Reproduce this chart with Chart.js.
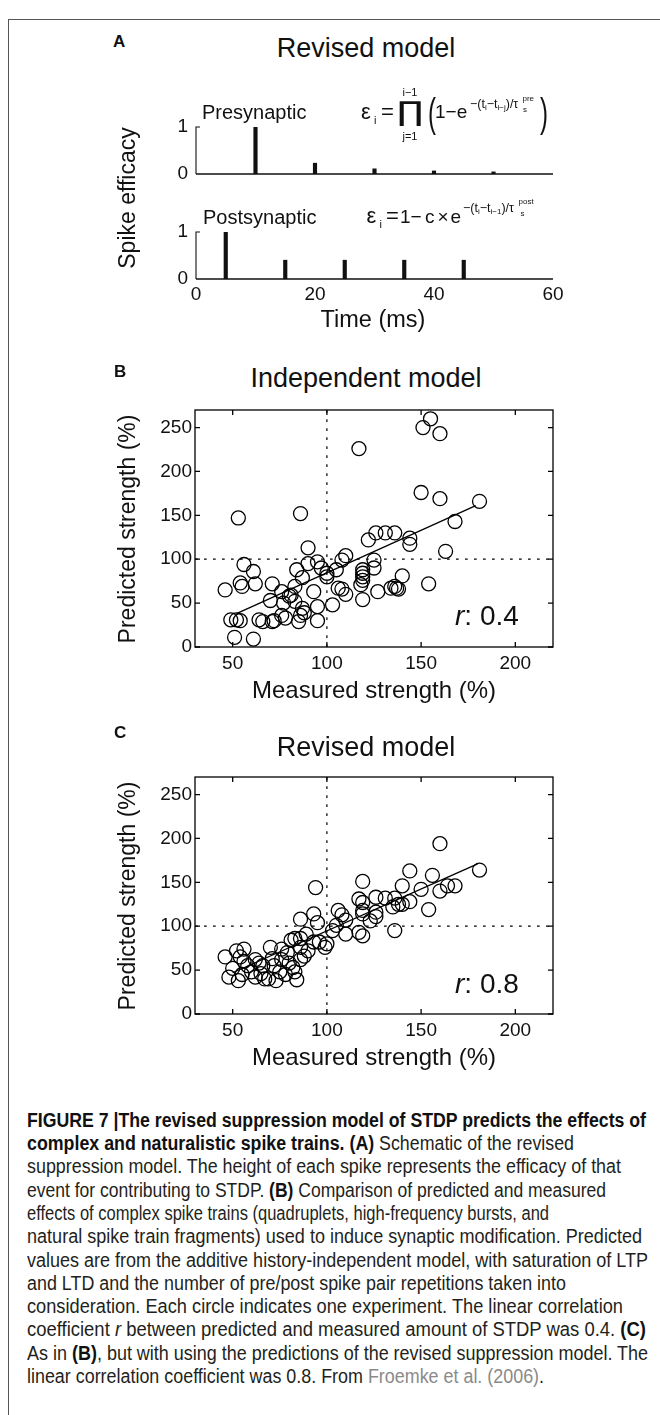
<!DOCTYPE html>
<html>
<head>
<meta charset="utf-8">
<script src="https://cdn.jsdelivr.net/npm/chart.js@4.4.1/dist/chart.umd.min.js"></script>
<style>
  html, body { margin: 0; padding: 0; background: #fff; }
  body { width: 660px; height: 1415px; position: relative; overflow: hidden;
         font-family: "Liberation Sans", Arial, sans-serif; color: #111; }
  .frame { position: absolute; left: 8px; top: 19px; width: 700px; height: 1500px;
           border-left: 1px solid #555; border-top: 1px solid #555; }
  canvas { position: absolute; left: 0; }
  .t { position: absolute; white-space: nowrap; line-height: 1; }
  .sb { font-size: 8px; position: relative; top: 2px; }
  .cap { position: absolute; left: 27px; white-space: nowrap; line-height: 1;
         font-family: "Liberation Sans Narrow", "Liberation Sans", sans-serif;
         font-size: 20px; color: #231f20; transform-origin: left center; }
  .cap b { color: #111; }
  .ref { color: #8a8a8a; }
</style>
</head>
<body>
<div class="frame"></div>
<canvas id="pre" width="660" height="78" style="top:110px"></canvas>
<canvas id="post" width="660" height="94" style="top:215px"></canvas>
<canvas id="indep" width="660" height="280" style="top:400px"></canvas>
<canvas id="revised" width="660" height="280" style="top:767px"></canvas>

<script>
// panel A: spike times (ms) and efficacies
const timeTicks = [0, 20, 40, 60];
const preTimes = [10, 20, 30, 40, 50];
const preEfficacy = [1, 0.23, 0.11, 0.065, 0.045];
const postTimes = [5, 15, 25, 35, 45];
const postEfficacy = [1, 0.4, 0.4, 0.4, 0.4];

// panels B and C: measured vs predicted strength (%)
const measuredTicks = [50, 100, 150, 200];
const predictedTicks = [0, 50, 100, 150, 200, 250];
const refLevel = 100;

const indepMeasured = [155, 151, 160, 117, 150, 160, 181, 168, 53, 86,
  126, 131, 136, 122, 144, 144, 90, 110, 108, 163, 125, 125,
  56, 61, 84, 87, 90, 95, 97, 100, 100, 105, 119, 119, 119, 119, 118,
  140, 154, 134, 137, 138, 136, 54, 55, 62, 46, 71,
  76, 81, 83, 93, 106, 108, 110, 127, 119, 103, 70, 77, 80, 83, 87, 95,
  76, 71, 64, 66, 72, 49, 52, 54, 51, 61, 86, 85, 95, 88, 78];
const indepPredicted = [260, 250, 243, 226, 176, 169, 166, 143, 147, 152,
  130, 130, 130, 122, 124, 117, 113, 104, 99, 109, 99, 90,
  94, 86, 88, 79, 95, 97, 90, 84, 80, 88, 88, 84, 80, 76, 71,
  81, 72, 67, 67, 66, 69, 73, 69, 72, 65, 72,
  63, 59, 69, 63, 67, 66, 60, 63, 54, 48, 53, 50, 58, 52, 44, 46,
  36, 29, 31, 29, 30, 31, 31, 30, 11, 9, 36, 29, 30, 39, 33];
const indepFitX = [52, 179];
const indepFitY = [38, 161];

const revMeasured = [160, 181, 144, 156, 119, 94, 140, 150, 160, 164, 168,
  144, 154, 117, 119, 126, 131, 136, 138, 135, 140,
  119, 119, 126, 123, 126, 106, 108, 110, 93, 86, 95,
  136, 117, 119, 105, 110, 103, 96, 99, 93, 89, 86, 83, 81,
  70, 76, 56, 52, 46, 54,
  48, 53, 69, 73, 84, 83, 65, 58, 60, 62, 67, 72, 75, 78, 80,
  82, 86, 88, 62, 66, 71, 56, 50, 55, 64, 76, 90, 86, 79, 100];
const revPredicted = [194, 164, 163, 158, 151, 144, 146, 142, 140, 146, 146,
  128, 119, 131, 127, 133, 132, 132, 125, 122, 125,
  118, 114, 116, 106, 111, 118, 113, 107, 114, 108, 104,
  95, 93, 89, 101, 91, 95, 82, 76, 82, 91, 86, 86, 84,
  76, 74, 74, 72, 65, 65,
  42, 38, 40, 38, 39, 48, 46, 55, 48, 42, 40, 55, 48, 45, 58,
  53, 62, 66, 62, 55, 63, 60, 52, 45, 58, 62, 72, 76, 70, 80];
const revFitX = [50, 180];
const revFitY = [47, 171];

const FONT = '"Liberation Sans", Arial, sans-serif';
Chart.defaults.font.family = FONT;
Chart.defaults.color = '#111';

const toPoints = (xs, ys) => xs.map((x, i) => ({ x, y: ys[i] }));
const fixTicks = (vals) => (s) => { s.ticks = vals.map((v) => ({ value: v })); };
// fixed axis boxes, and no extra room reserved for half labels
const fitTo = (prop, size) => (s) => {
  s[prop] = size;
  s.paddingTop = s.paddingBottom = s.paddingLeft = s.paddingRight = 0;
};

// matlab-like box: frame, inward ticks, dotted reference lines
const boxAxes = {
  id: 'boxAxes',
  beforeDatasetsDraw(chart, args, opts) {
    const { ctx, chartArea: a, scales: { x, y } } = chart;
    const px = x.getPixelForValue(opts.ref);
    const py = y.getPixelForValue(opts.ref);
    ctx.save();
    ctx.strokeStyle = '#000';
    ctx.lineWidth = 1.2;
    ctx.setLineDash([2.7, 6.3]);
    ctx.beginPath();
    ctx.moveTo(px, a.bottom); ctx.lineTo(px, a.top);
    ctx.moveTo(a.left, py); ctx.lineTo(a.right, py);
    ctx.stroke();
    ctx.restore();
  },
  afterDatasetsDraw(chart) {
    const { ctx, chartArea: a, scales: { x, y } } = chart;
    ctx.save();
    ctx.strokeStyle = '#000';
    ctx.lineWidth = 1.3;
    ctx.strokeRect(a.left, a.top, a.right - a.left, a.bottom - a.top);
    ctx.beginPath();
    x.ticks.forEach((t) => {
      const p = x.getPixelForValue(t.value);
      ctx.moveTo(p, a.bottom); ctx.lineTo(p, a.bottom - 5);
      ctx.moveTo(p, a.top); ctx.lineTo(p, a.top + 5);
    });
    y.ticks.forEach((t) => {
      const p = y.getPixelForValue(t.value);
      ctx.moveTo(a.left, p); ctx.lineTo(a.left + 5, p);
      ctx.moveTo(a.right, p); ctx.lineTo(a.right - 5, p);
    });
    ctx.stroke();
    ctx.restore();
  }
};

// spike panels: left spine 0..1 with a tick at 1, and the baseline
const spikeAxes = {
  id: 'spikeAxes',
  afterDatasetsDraw(chart) {
    const { ctx, scales: { x, y } } = chart;
    const x0 = x.getPixelForValue(timeTicks[0]);
    const x1 = x.getPixelForValue(timeTicks[timeTicks.length - 1]);
    const y0 = y.getPixelForValue(0);
    const y1 = y.getPixelForValue(1);
    ctx.save();
    ctx.strokeStyle = '#111';
    ctx.lineWidth = 1.1;
    ctx.beginPath();
    ctx.moveTo(x0, y0); ctx.lineTo(x0, y1); ctx.lineTo(x0 + 4, y1);
    ctx.stroke();
    ctx.lineWidth = 1.6;
    ctx.beginPath();
    ctx.moveTo(x0, y0); ctx.lineTo(x1, y0);
    ctx.stroke();
    ctx.restore();
  }
};

function spikeChart(id, times, eff, showTime) {
  new Chart(document.getElementById(id), {
    type: 'bar',
    data: {
      datasets: [{
        data: toPoints(times, eff),
        backgroundColor: '#111',
        borderWidth: 0,
        barThickness: 3.5
      }]
    },
    options: {
      responsive: false,
      animation: false,
      events: [],
      layout: { padding: { left: 100, right: 107, top: 17, bottom: 0 } },
      plugins: { legend: { display: false }, tooltip: { enabled: false } },
      scales: {
        x: {
          type: 'linear', min: 0, max: 60, offset: false,
          afterBuildTicks: fixTicks(timeTicks),
          grid: { display: false, drawTicks: false }, border: { display: false },
          ticks: { display: showTime, padding: 4.6, font: { size: 19 } },
          afterFit: fitTo('height', showTime ? 30 : 14)
        },
        y: {
          min: 0, max: 1,
          afterBuildTicks: fixTicks([0, 1]),
          grid: { display: false, drawTicks: false }, border: { display: false },
          ticks: { padding: 8, font: { size: 19 } },
          afterFit: fitTo('width', 96)
        }
      }
    },
    plugins: [spikeAxes]
  });
}

function strengthChart(id, xs, ys, fitX, fitY) {
  new Chart(document.getElementById(id), {
    type: 'scatter',
    data: {
      datasets: [
        {
          type: 'line',
          data: toPoints(fitX, fitY),
          borderColor: '#000',
          borderWidth: 1.3,
          pointRadius: 0,
          fill: false
        },
        {
          data: toPoints(xs, ys),
          pointRadius: 7,
          pointHoverRadius: 7,
          pointBorderWidth: 1.3,
          borderColor: '#000',
          backgroundColor: 'rgba(0,0,0,0)'
        }
      ]
    },
    options: {
      responsive: false,
      animation: false,
      events: [],
      layout: { padding: { left: 100, right: 107, top: 10, bottom: 0 } },
      plugins: { legend: { display: false }, tooltip: { enabled: false }, boxAxes: { ref: refLevel } },
      scales: {
        x: {
          type: 'linear', min: 30, max: 220,
          afterBuildTicks: fixTicks(measuredTicks),
          grid: { display: false, drawTicks: false }, border: { display: false },
          ticks: { padding: 5, font: { size: 19 } },
          afterFit: fitTo('height', 33)
        },
        y: {
          type: 'linear', min: 0, max: 270,
          afterBuildTicks: fixTicks(predictedTicks),
          grid: { display: false, drawTicks: false }, border: { display: false },
          ticks: { padding: 3, font: { size: 19 } },
          afterFit: fitTo('width', 95)
        }
      }
    },
    plugins: [boxAxes]
  });
}

spikeChart('pre', preTimes, preEfficacy, false);
spikeChart('post', postTimes, postEfficacy, true);
strengthChart('indep', indepMeasured, indepPredicted, indepFitX, indepFitY);
strengthChart('revised', revMeasured, revPredicted, revFitX, revFitY);

// text placed by baseline
function put(html, x, base, size, align, extra, family) {
  const d = document.createElement('div');
  d.className = 't';
  d.innerHTML = html;
  d.style.fontSize = size + 'px';
  if (family) d.style.fontFamily = family;
  d.style.left = x + 'px';
  d.style.top = (base - 0.847 * size) + 'px';
  let tf = align === 'center' ? 'translateX(-50%) ' : align === 'right' ? 'translateX(-100%) ' : '';
  if (extra) tf += extra;
  if (tf) { d.style.transform = tf; d.style.transformOrigin = 'left bottom'; }
  document.body.appendChild(d);
  return d;
}
function putV(text, cx, cy, size) {
  const d = document.createElement('div');
  d.className = 't';
  d.textContent = text;
  d.style.fontSize = size + 'px';
  d.style.left = cx + 'px';
  d.style.top = cy + 'px';
  d.style.transform = 'translate(-50%,-50%) rotate(-90deg)';
  document.body.appendChild(d);
}

// panel A
put('<b>A</b>', 113, 47, 17);
put('Revised model', 366, 57.5, 27, 'center');
put('Presynaptic', 202, 119, 20);
put('Postsynaptic', 203, 223.5, 20);
putV('Spike efficacy', 127, 198, 23);
put('Time (ms)', 373, 327.5, 23.5, 'center');

// presynaptic formula
put('ε', 361, 119.5, 22);
put('i', 374, 124, 11);
put('=', 381, 119.5, 22);
put('∏', 397, 120.5, 27, '', 'scaleX(1.3)', '"DejaVu Sans"');
put('i−1', 410, 96, 11, 'center');
put('j=1', 410, 140, 11, 'center');
put('(', 428, 126.6, 40, '', 'scaleX(0.6)');
put('1−e', 435, 118.5, 19);
put('−(t<span class="sb">i</span>−t<span class="sb">i−j</span>)/τ', 470, 108.5, 12.5);
put('pre', 522.5, 101.5, 8);
put('s', 523, 113, 8);
put(')', 540, 126.6, 40, '', 'scaleX(0.6)');

// postsynaptic formula
put('ε', 366.5, 224, 22);
put('i', 379.5, 228.5, 11);
put('=', 386, 224, 22);
put('1', 400, 223.5, 19);
put('−', 410.5, 223.5, 19);
put('c', 425, 223.5, 19);
put('×', 437.5, 223.5, 19);
put('e', 450.5, 223.5, 19);
put('−(t<span class="sb">i</span>−t<span class="sb">i−1</span>)/τ', 463, 213, 12.5);
put('post', 518.5, 204.5, 8);
put('s', 520.5, 217, 8);

// panel B
put('<b>B</b>', 114, 377.5, 17);
put('Independent model', 366, 388, 27, 'center');
putV('Predicted strength (%)', 127, 528.5, 23);
put('Measured strength (%)', 374, 698, 24, 'center');
put('<i>r</i>: 0.4', 455, 626, 28);

// panel C
put('<b>C</b>', 114, 738, 17);
put('Revised model', 366, 756.5, 27, 'center');
putV('Predicted strength (%)', 127, 896, 23);
put('Measured strength (%)', 374, 1065.5, 24, 'center');
put('<i>r</i>: 0.8', 455, 994, 28);

// caption, one div per printed line, squeezed to the printed line ends
const captionLines = [
  ['<b>FIGURE 7 |The revised suppression model of STDP predicts the effects of</b>', 646],
  ['<b>complex and naturalistic spike trains. (A)</b> Schematic of the revised', 574],
  ['suppression model. The height of each spike represents the efficacy of that', 621],
  ['event for contributing to STDP. <b>(B)</b> Comparison of predicted and measured', 606],
  ['effects of complex spike trains (quadruplets, high-frequency bursts, and', 549],
  ['natural spike train fragments) used to induce synaptic modification. Predicted', 642],
  ['values are from the additive history-independent model, with saturation of LTP', 648],
  ['and LTD and the number of pre/post spike pair repetitions taken into', 566],
  ['consideration. Each circle indicates one experiment. The linear correlation', 623],
  ['coefficient <i>r</i> between predicted and measured amount of STDP was 0.4. <b>(C)</b>', 646],
  ['As in <b>(B)</b>, but with using the predictions of the revised suppression model. The', 648],
  ['linear correlation coefficient was 0.8. From <span class="ref">Froemke et al. (2006)</span>.', 0]
];
const capDivs = captionLines.map(([html], k) => {
  const d = document.createElement('div');
  d.className = 'cap';
  d.innerHTML = html;
  d.style.top = (1126.7 + 23.3 * k - 0.847 * 20) + 'px';
  document.body.appendChild(d);
  return d;
});
const ratios = capDivs.map((d, k) => (captionLines[k][1] - 27) / d.getBoundingClientRect().width);
const median = ratios.slice(0, 11).sort((a, b) => a - b)[5];
capDivs.forEach((d, k) => {
  const s = captionLines[k][1] ? ratios[k] : median;
  d.style.transform = 'scaleX(' + s.toFixed(4) + ')';
});
</script>
</body>
</html>
